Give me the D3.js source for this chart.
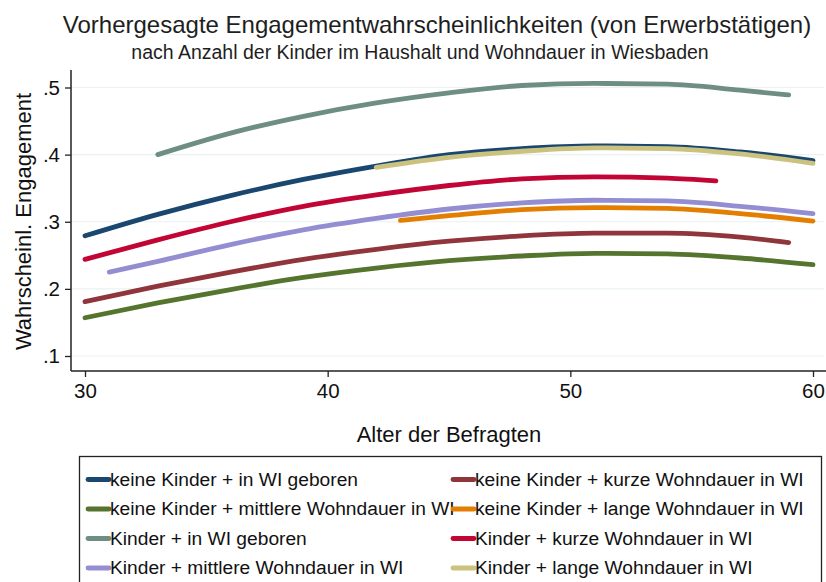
<!DOCTYPE html>
<html>
<head>
<meta charset="utf-8">
<script src="https://cdn.jsdelivr.net/npm/d3@7"></script>
<style>
  body { margin: 0; background: #fff; }
  svg { display: block; font-family: "Liberation Sans", Arial, sans-serif; }
</style>
</head>
<body>
<script>
// series names, legend order = draw order
var seriesNames = [
    "keine Kinder + in WI geboren",
    "keine Kinder + kurze Wohndauer in WI",
    "keine Kinder + mittlere Wohndauer in WI",
    "keine Kinder + lange Wohndauer in WI",
    "Kinder + in WI geboren",
    "Kinder + kurze Wohndauer in WI",
    "Kinder + mittlere Wohndauer in WI",
    "Kinder + lange Wohndauer in WI"
];
var colors = ["#1a476f", "#90353b", "#55752f", "#e37e00", "#6e8e84", "#c10534", "#938dd2", "#cac27e"];

// [age, probability]
var keineGeboren = [[30, .279], [33, .311], [36, .339], [39, .363], [42, .383], [45, .400], [48, .409], [51, .413], [54, .412], [57, .404], [60, .391]];
var keineKurz = [[30, .181], [33, .204], [36, .225], [39, .244], [42, .259], [45, .271], [48, .279], [51, .283], [54, .283], [57, .277], [59, .269]];
var keineMittel = [[30, .157], [33, .179], [36, .199], [39, .217], [42, .231], [45, .242], [48, .249], [51, .253], [54, .252], [57, .246], [60, .236]];
var keineLang = [[43, .302], [45, .309], [48, .318], [51, .321], [54, .320], [57, .312], [60, .301]];
var kinderGeboren = [[33, .400], [36, .432], [39, .457], [42, .477], [45, .492], [48, .503], [51, .506], [54, .505], [57, .496], [59, .489]];
var kinderKurz = [[30, .244], [33, .273], [36, .300], [39, .323], [42, .340], [45, .354], [48, .364], [51, .367], [54, .365], [56, .361]];
var kinderMittel = [[31, .225], [33, .241], [36, .266], [39, .288], [42, .305], [45, .319], [48, .328], [51, .332], [54, .331], [57, .323], [60, .312]];
var kinderLang = [[42, .381], [45, .396], [48, .405], [51, .410], [54, .409], [57, .401], [60, .387]];

var allSeries = [keineGeboren, keineKurz, keineMittel, keineLang, kinderGeboren, kinderKurz, kinderMittel, kinderLang];

var xTicks = [30, 40, 50, 60];
var yTicks = [.1, .2, .3, .4, .5];
var yTickLabels = [".1", ".2", ".3", ".4", ".5"];

var width = 826, height = 582;
var axisX = 71, axisY = 371, plotTop = 70, plotRight = 826;

var x = d3.scaleLinear().domain([30, 60]).range([85, 813]);
var y = d3.scaleLinear().domain([.1, .5]).range([356, 87.5]);

var svg = d3.select("body").append("svg")
    .attr("width", width)
    .attr("height", height);

// titles
svg.append("text")
    .attr("x", 437).attr("y", 33)
    .attr("text-anchor", "middle")
    .style("font-size", "24px")
    .attr("fill", "#1e1e1e")
    .text("Vorhergesagte Engagementwahrscheinlichkeiten (von Erwerbstätigen)");

svg.append("text")
    .attr("x", 420).attr("y", 59)
    .attr("text-anchor", "middle")
    .style("font-size", "19.5px")
    .attr("fill", "#1e1e1e")
    .text("nach Anzahl der Kinder im Haushalt und Wohndauer in Wiesbaden");

// grid
svg.append("g")
    .selectAll("line")
    .data(yTicks)
    .enter()
    .append("line")
    .attr("x1", axisX + 1).attr("x2", plotRight - 2)
    .attr("y1", d => y(d)).attr("y2", d => y(d))
    .attr("stroke", "#eaf1f3")
    .attr("stroke-width", 1.2);

// axes
var yAxis = d3.axisLeft(y)
    .tickValues(yTicks)
    .tickFormat((d, i) => yTickLabels[i])
    .tickSize(6)
    .tickSizeOuter(0)
    .tickPadding(5);

var xAxis = d3.axisBottom(x)
    .tickValues(xTicks)
    .tickFormat(d3.format("d"))
    .tickSize(6)
    .tickSizeOuter(0)
    .tickPadding(6);

var gy = svg.append("g")
    .attr("transform", "translate(" + axisX + ",0)")
    .call(yAxis);
var gx = svg.append("g")
    .attr("transform", "translate(0," + axisY + ")")
    .call(xAxis);

[gx, gy].forEach(function(g) {
    g.select(".domain").remove();
    g.selectAll(".tick line").attr("stroke", "#222").attr("stroke-width", 1.3);
    g.selectAll(".tick text")
        .attr("fill", "#111")
        .style("font-size", "20.5px")
        .style("font-family", "'Liberation Sans', Arial, sans-serif");
});

svg.append("line")
    .attr("x1", axisX).attr("x2", axisX)
    .attr("y1", plotTop).attr("y2", axisY)
    .attr("stroke", "#222").attr("stroke-width", 1.5);
svg.append("line")
    .attr("x1", axisX).attr("x2", plotRight)
    .attr("y1", axisY).attr("y2", axisY)
    .attr("stroke", "#222").attr("stroke-width", 1.5);

svg.append("text")
    .attr("transform", "translate(31," + ((plotTop + axisY) / 2 + 1) + ") rotate(-90)")
    .attr("text-anchor", "middle")
    .style("font-size", "22px")
    .attr("fill", "#111")
    .text("Wahrscheinl. Engagement");

svg.append("text")
    .attr("x", 449).attr("y", 442)
    .attr("text-anchor", "middle")
    .style("font-size", "22px")
    .attr("fill", "#111")
    .text("Alter der Befragten");

// lines
var line = d3.line()
    .curve(d3.curveMonotoneX)
    .x(d => x(d[0]))
    .y(d => y(d[1]));

svg.append("g")
    .selectAll("path")
    .data(allSeries)
    .enter()
    .append("path")
    .attr("d", d => line(d))
    .attr("fill", "none")
    .attr("stroke", (d, i) => colors[i])
    .attr("stroke-width", 4.8)
    .attr("stroke-linecap", "round");

// legend
svg.append("rect")
    .attr("x", 79.5).attr("y", 456.5)
    .attr("width", 742).attr("height", 140)
    .attr("fill", "#fff")
    .attr("stroke", "#222")
    .attr("stroke-width", 1.3);

var legend = svg.append("g")
    .selectAll("g")
    .data(seriesNames)
    .enter()
    .append("g")
    .attr("transform", (d, i) => "translate(" + (i % 2 ? 453 : 88) + "," + (479.5 + Math.floor(i / 2) * 29.5) + ")");

legend.append("line")
    .attr("x1", 0).attr("x2", 21)
    .attr("stroke", (d, i) => colors[i])
    .attr("stroke-width", 4.8)
    .attr("stroke-linecap", "round");

legend.append("text")
    .attr("x", 22).attr("dy", "0.33em")
    .style("font-size", "19.2px")
    .attr("fill", "#111")
    .text(d => d);
</script>
</body>
</html>
